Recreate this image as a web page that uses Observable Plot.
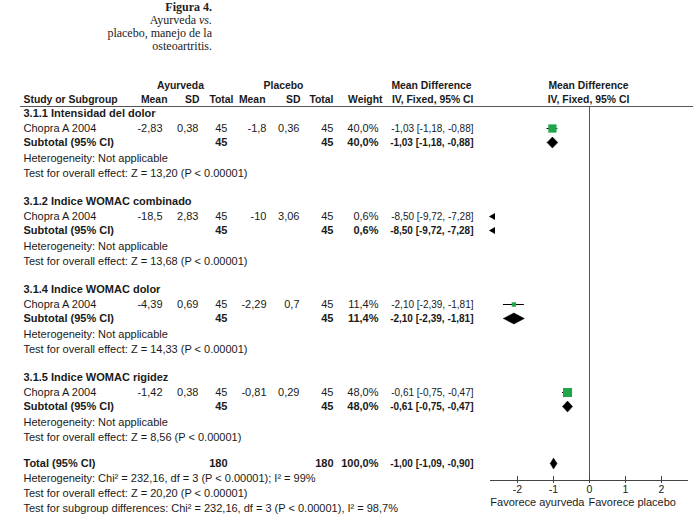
<!DOCTYPE html>
<html><head><meta charset="utf-8">
<script src="https://cdn.jsdelivr.net/npm/d3@7"></script>
<script src="https://cdn.jsdelivr.net/npm/@observablehq/plot@0.6"></script>
<style>
body{margin:0;background:#fff;}
#wrap{position:relative;width:693px;height:532px;}
#title{position:absolute;left:0;top:1px;width:212px;text-align:right;font-family:"Liberation Serif","DejaVu Serif",serif;font-size:12px;line-height:13px;color:#222;}
#chart{position:absolute;left:0;top:0;}
</style></head><body>
<div id="wrap"><div id="chart"></div><div id="title"><b>Figura 4.</b><br>Ayurveda <i>vs.</i><br>placebo, manejo de la<br>osteoartritis.</div></div>
<script>
// ---- data ----
const groups = ["3.1.1 Intensidad del dolor","3.1.2 Indice WOMAC combinado","3.1.4 Indice WOMAC dolor","3.1.5 Indice WOMAC rigidez"];
const studies = ["Chopra A 2004","Chopra A 2004","Chopra A 2004","Chopra A 2004"];
const ayMean = [-2.83,-18.5,-4.39,-1.42];
const aySD = [0.38,2.83,0.69,0.38];
const ayN = [45,45,45,45];
const plMean = [-1.8,-10,-2.29,-0.81];
const plSD = [0.36,3.06,0.7,0.29];
const plN = [45,45,45,45];
const weights = [40.0,0.6,11.4,48.0];
const mdVals = [-1.03,-8.50,-2.10,-0.61];
const ciLo = [-1.18,-9.72,-2.39,-0.75];
const ciHi = [-0.88,-7.28,-1.81,-0.47];
const zVals = ["13,20","13,68","14,33","8,56"];
const totalN1 = 180, totalN2 = 180, totalW = 100.0;
const totalMD = -1.00, totalLo = -1.09, totalHi = -0.90;
const hetSub = "Heterogeneity: Not applicable";
const totalHet = "Heterogeneity: Chi\u00b2 = 232,16, df = 3 (P < 0.00001); I\u00b2 = 99%";
const totalTest = "Test for overall effect: Z = 20,20 (P < 0.00001)";
const subgroupTest = "Test for subgroup differences: Chi\u00b2 = 232,16, df = 3 (P < 0.00001), I\u00b2 = 98,7%";
const axisTicks = [-2,-1,0,1,2];
const favLeft = "Favorece ayurveda", favRight = "Favorece placebo";

// ---- layout ----
const W = 693, H = 532;
const plotL = 490, plotR = 688, axMin = -2.75, axMax = 2.75;
const k = (plotR - plotL) / (axMax - axMin);
const xDomain = [axMin - plotL / k, axMax + (W - plotR) / k];
const y0 = 113, pitch = 88;
const off = {study: 15, sub: 29, het: 45, test: 60};
const gy = i => y0 + i * pitch;
const totalY = gy(3) + off.test + 26;
const axisY = 480, hdr1 = 85, hdr2 = 99, lineY = 106;
const FONT = '"Liberation Sans", Arial, sans-serif';
const INK = "#1a1a1a", GREEN = "#1fa64b";

const fmt = v => String(v).replace(".", ",");
const fmt2 = v => v.toFixed(2).replace(".", ",");
const fmtW = v => v.toFixed(1).replace(".", ",") + "%";
const ciText = (m, l, h) => `${fmt2(m)} [${fmt2(l)}, ${fmt2(h)}]`;

const G = groups.map((g, i) => ({
  i, name: g, study: studies[i], am: ayMean[i], asd: aySD[i], an: ayN[i],
  pm: plMean[i], psd: plSD[i], pn: plN[i], w: weights[i],
  md: mdVals[i], lo: ciLo[i], hi: ciHi[i], z: zVals[i],
  yH: gy(i), yS: gy(i) + off.study, ySub: gy(i) + off.sub, yHet: gy(i) + off.het, yTest: gy(i) + off.test
}));

const base = {frameAnchor: "left", fontFamily: FONT, fill: INK};
const T = (data, y, text, px, anchor = "end", bold = false, size = 11) =>
  Plot.text(data, {...base, y, text, dx: px, textAnchor: anchor, fontSize: size, fontWeight: bold ? "bold" : "normal"});
const H_ = (y, t, px, anchor) => T([0], () => y, () => t, px, anchor, true, 10.4);
const one = [0];
const C = v => () => v;

const marks = [];
// headers
marks.push(
  H_(hdr1, "Ayurveda", 180, "middle"),
  H_(hdr1, "Placebo", 283, "middle"),
  H_(hdr1, "Mean Difference", 431, "middle"),
  H_(hdr1, "Mean Difference", 588, "middle"),
  H_(hdr2, "Study or Subgroup", 23, "start"),
  H_(hdr2, "Mean", 167, "end"),
  H_(hdr2, "SD", 199, "end"),
  H_(hdr2, "Total", 233, "end"),
  H_(hdr2, "Mean", 265, "end"),
  H_(hdr2, "SD", 300, "end"),
  H_(hdr2, "Total", 333, "end"),
  H_(hdr2, "Weight", 382, "end"),
  H_(hdr2, "IV, Fixed, 95% CI", 473, "end"),
  H_(hdr2, "IV, Fixed, 95% CI", 588, "middle")
);
// group rows
marks.push(
  T(G, "yH", "name", 23, "start", true),
  T(G, "yS", "study", 23, "start"),
  T(G, "yS", d => fmt(d.am), 162, "end"),
  T(G, "yS", d => fmt(d.asd), 198, "end"),
  T(G, "yS", d => String(d.an), 227, "end"),
  T(G, "yS", d => fmt(d.pm), 266, "end"),
  T(G, "yS", d => fmt(d.psd), 299, "end"),
  T(G, "yS", d => String(d.pn), 333, "end"),
  T(G, "yS", d => fmtW(d.w), 378, "end"),
  T(G, "yS", d => ciText(d.md, d.lo, d.hi), 473, "end", false, 10),
  T(G, "ySub", C("Subtotal (95% CI)"), 23, "start", true),
  T(G, "ySub", d => String(d.an), 227, "end", true),
  T(G, "ySub", d => String(d.pn), 333, "end", true),
  T(G, "ySub", d => fmtW(d.w), 378, "end", true),
  T(G, "ySub", d => ciText(d.md, d.lo, d.hi), 473, "end", true, 10),
  T(G, "yHet", C(hetSub), 23, "start"),
  T(G, "yTest", d => `Test for overall effect: Z = ${d.z} (P < 0.00001)`, 23, "start")
);
// total rows
marks.push(
  T(one, C(totalY), C("Total (95% CI)"), 23, "start", true),
  T(one, C(totalY), C(String(totalN1)), 227, "end", true),
  T(one, C(totalY), C(String(totalN2)), 333, "end", true),
  T(one, C(totalY), C(fmtW(totalW)), 378, "end", true),
  T(one, C(totalY), C(ciText(totalMD, totalLo, totalHi)), 473, "end", true, 10),
  T(one, C(totalY + 15), C(totalHet), 23, "start"),
  T(one, C(totalY + 30), C(totalTest), 23, "start"),
  T(one, C(totalY + 45), C(subgroupTest), 23, "start")
);

// forest graphics
const inR = G.filter(d => d.lo >= axMin);
const outR = G.filter(d => d.lo < axMin);
const dH = 5.5;
const diamonds = [...inR.map(d => ({id: d.i, md: d.md, lo: d.lo, hi: d.hi, y: d.ySub})),
  {id: "T", md: totalMD, lo: totalLo, hi: totalHi, y: totalY}];
const dPts = diamonds.flatMap(d => [
  {id: d.id, x: d.lo, y: d.y}, {id: d.id, x: d.md, y: d.y - dH},
  {id: d.id, x: d.hi, y: d.y}, {id: d.id, x: d.md, y: d.y + dH}, {id: d.id, x: d.lo, y: d.y}]);
const arrows = outR.flatMap(d => [{y: d.yS}, {y: d.ySub}]);

marks.push(
  Plot.ruleY([lineY], {x1: xDomain[0] + 20 / k, x2: xDomain[1], stroke: "#555", strokeWidth: 1}),
  Plot.ruleX([0], {y1: lineY, y2: axisY, stroke: "#555", strokeWidth: 1}),
  Plot.ruleY([axisY], {x1: axMin, x2: axMax, stroke: "#444", strokeWidth: 1}),
  Plot.ruleX(axisTicks, {x: d => d, y1: axisY - 4, y2: axisY + 3, stroke: "#444"}),
  Plot.text(axisTicks, {x: d => d, y: axisY + 9, text: d => String(d), fontSize: 10.5, fontFamily: FONT, fill: INK}),
  Plot.text([favLeft], {x: () => 0, y: () => axisY + 22, text: d => d, dx: -5, textAnchor: "end", fontSize: 11, fontFamily: FONT, fill: INK}),
  Plot.text([favRight], {x: () => 0, y: () => axisY + 22, text: d => d, dx: -1, textAnchor: "start", fontSize: 11, fontFamily: FONT, fill: INK}),
  Plot.ruleY(inR, {y: "yS", x1: "lo", x2: "hi", stroke: "black", strokeWidth: 1}),
  Plot.dot(inR, {x: "md", y: "yS", r: "w", symbol: "square", fill: GREEN, stroke: "none"}),
  Plot.line(dPts, {x: "x", y: "y", z: "id", fill: "black", stroke: "black", strokeWidth: 0.5}),
  Plot.dot(arrows, {x: () => axMin, y: "y", symbol: "triangle", rotate: -90, r: 2.6, dx: 2.5, fill: "black", stroke: "none"})
);

const chart = Plot.plot({
  width: W, height: H, margin: 0,
  x: {domain: xDomain, range: [0, W], axis: null},
  y: {domain: [0, H], range: [0, H], axis: null},
  r: {type: "sqrt", domain: [0, 48], range: [0, 5.1]},
  style: {background: "#fff", overflow: "visible"},
  marks
});
document.getElementById("chart").appendChild(chart);
</script>
</body></html>
